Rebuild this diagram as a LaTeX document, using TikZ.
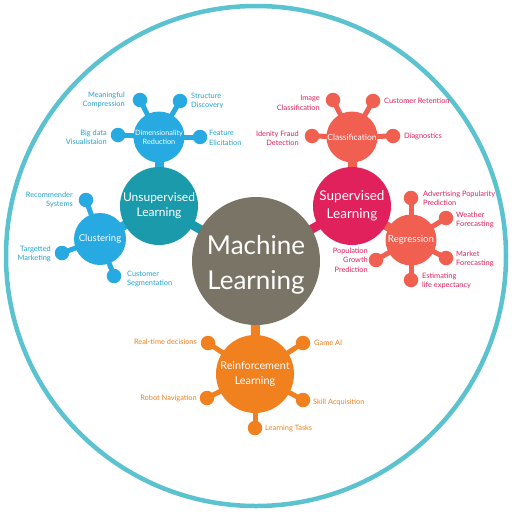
\documentclass[tikz,border=0pt]{standalone}
\usepackage{fontspec}
\setmainfont{Lato}
\usetikzlibrary{backgrounds}
\definecolor{ring}{HTML}{5BC2CF}
\definecolor{mlgray}{HTML}{7A7466}
\definecolor{unsupc}{HTML}{1A9AAA}
\definecolor{bluec}{HTML}{27A9E1}
\definecolor{supc}{HTML}{E0215B}
\definecolor{coralc}{HTML}{F15F51}
\definecolor{orangec}{HTML}{F1801F}
\definecolor{bluelab}{HTML}{22A2CF}
\definecolor{redlab}{HTML}{E0215B}
\definecolor{orangelab}{HTML}{F1801F}
\tikzset{
  bub/.style={circle, inner sep=0pt, text=white, align=center},
  dotnode/.style={circle, inner sep=0pt, minimum size=14.5pt},
  lab/.style={inner sep=0pt, font=\fontsize{7.4}{9.3}\selectfont},
  labl/.style={lab, anchor=west, align=left},
  labr/.style={lab, anchor=east, align=right},
  mainlink/.style={line width=9pt},
  spoke/.style={line width=5pt},
}
\begin{document}
\begin{tikzpicture}[x=1pt,y=-1pt]
\useasboundingbox (0,0) rectangle (512,512);
\draw[ring, line width=4.5pt] (256,256) circle[radius=250];
% main bubbles
\node[bub, fill=mlgray, minimum size=128pt] (ml) at (256,261) {};
\node[text=white, align=center, inner sep=0pt, font=\fontsize{26}{35}\selectfont] (mlt) at (256,265) {Machine\\Learning};
\node[bub, fill=unsupc, minimum size=78pt, font=\fontsize{12}{15}\selectfont] (unsup) at (159,206) {Unsupervised\\Learning};
\node[bub, fill=supc, minimum size=78pt, font=\fontsize{13.5}{18}\selectfont] (sup) at (352,206) {Supervised\\Learning};
\node[bub, fill=orangec, minimum size=78pt, font=\fontsize{10.8}{15}\selectfont] (rein) at (255,374) {Reinforcement\\Learning};
% sub bubbles
\node[bub, fill=bluec, minimum size=51pt, font=\fontsize{7.3}{9}\selectfont] (dim) at (159,137) {Dimensionality\\Reduction};
\node[bub, fill=bluec, minimum size=52pt, font=\fontsize{9.5}{11}\selectfont] (clu) at (100,239) {Clustering};
\node[bub, fill=coralc, minimum size=51pt, font=\fontsize{8.5}{10}\selectfont] (cla) at (352,137) {Classification};
\node[bub, fill=coralc, minimum size=51pt, font=\fontsize{9.7}{11}\selectfont] (reg) at (411,240) {Regression};
% dots
\node[dotnode, fill=bluec] (d1) at (140,100) {};
\node[dotnode, fill=bluec] (d2) at (180,101) {};
\node[dotnode, fill=bluec] (d3) at (118,135) {};
\node[dotnode, fill=bluec] (d4) at (200,137) {};
\node[dotnode, fill=bluec] (c1) at (86,200) {};
\node[dotnode, fill=bluec] (c2) at (62,253) {};
\node[dotnode, fill=bluec] (c3) at (114,276) {};
\node[dotnode, fill=coralc] (k1) at (333,100) {};
\node[dotnode, fill=coralc] (k2) at (373,101) {};
\node[dotnode, fill=coralc] (k3) at (312,136) {};
\node[dotnode, fill=coralc] (k4) at (393,136) {};
\node[dotnode, fill=coralc] (r1) at (411,198) {};
\node[dotnode, fill=coralc] (r2) at (446,218) {};
\node[dotnode, fill=coralc] (r3) at (446,258) {};
\node[dotnode, fill=coralc] (r4) at (411,280) {};
\node[dotnode, fill=coralc] (r5) at (376,260) {};
\node[dotnode, fill=orangec] (o1) at (208,343) {};
\node[dotnode, fill=orangec] (o2) at (303,343) {};
\node[dotnode, fill=orangec] (o3) at (207,398) {};
\node[dotnode, fill=orangec] (o4) at (303,400) {};
\node[dotnode, fill=orangec] (o5) at (255,428) {};
% links
\begin{pgfonlayer}{background}
\draw[mainlink, unsupc] (unsup.center) -- (ml.center);
\draw[mainlink, supc] (sup.center) -- (ml.center);
\draw[mainlink, orangec] (ml.center) -- (rein.center);
\draw[mainlink, bluec] (dim.center) -- (unsup.center);
\draw[mainlink, bluec] (clu.center) -- (unsup.center);
\draw[mainlink, coralc] (cla.center) -- (sup.center);
\draw[mainlink, coralc] (reg.center) -- (sup.center);
\foreach \d in {d1,d2,d3,d4} \draw[spoke, bluec] (dim.center) -- (\d.center);
\foreach \d in {c1,c2,c3} \draw[spoke, bluec] (clu.center) -- (\d.center);
\foreach \d in {k1,k2,k3,k4} \draw[spoke, coralc] (cla.center) -- (\d.center);
\foreach \d in {r1,r2,r3,r4,r5} \draw[spoke, coralc] (reg.center) -- (\d.center);
\foreach \d in {o1,o2,o3,o4,o5} \draw[spoke, orangec] (rein.center) -- (\d.center);
\end{pgfonlayer}
% labels
\node[labr, text=bluelab] (l1) at (125,100) {Meaningful\\Compression};
\node[labl, text=bluelab] (l2) at (191,101) {Structure\\Discovery};
\node[labr, text=bluelab] (l3) at (107,137) {Big data\\Visualistaion};
\node[labl, text=bluelab] (l4) at (209,138) {Feature\\Elicitation};
\node[labr, text=bluelab] (l5) at (73,200) {Recommender\\Systems};
\node[labr, text=bluelab] (l6) at (51,254) {Targetted\\Marketing};
\node[labl, text=bluelab] (l7) at (127,279) {Customer\\Segmentation};
\node[labr, text=redlab] (l8) at (320,103) {Image\\Classification};
\node[labl, text=redlab] (l9) at (384,101) {Customer Retention};
\node[labr, text=redlab] (l10) at (299,138) {Idenity Fraud\\Detection};
\node[labl, text=redlab] (l11) at (404,136) {Diagnostics};
\node[labl, text=redlab] (l12) at (423,198) {Advertising Popularity\\Prediction};
\node[labl, text=redlab] (l13) at (456,220) {Weather\\Forecasting};
\node[labl, text=redlab] (l14) at (456,259) {Market\\Forecasting};
\node[labl, text=redlab] (l15) at (422,281) {Estimating\\life expectancy};
\node[labr, text=redlab] (l16) at (368,260) {Population\\Growth\\Prediction};
\node[labr, text=orangelab] (l17) at (197,342) {Real-time decisions};
\node[labl, text=orangelab] (l18) at (314,343) {Game AI};
\node[labr, text=orangelab] (l19) at (197,398) {Robot Navigation};
\node[labl, text=orangelab] (l20) at (313,402) {Skill Acquisition};
\node[labl, text=orangelab] (l21) at (265,428) {Learning Tasks};
\end{tikzpicture}
\end{document}
